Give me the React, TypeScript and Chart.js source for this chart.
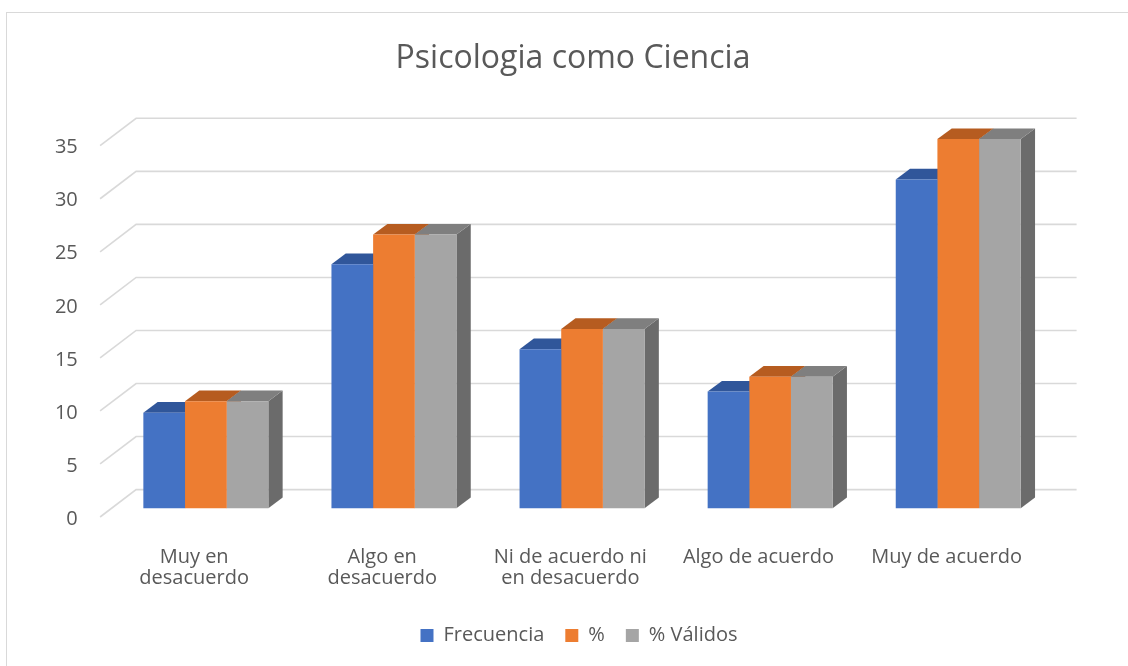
import React, { useEffect, useRef } from "react";
import { Chart, registerables } from "chart.js";

Chart.register(...registerables);

// ---- data ----
const categories: (string | string[])[] = [
  ["Muy en", "desacuerdo"],
  ["Algo en", "desacuerdo"],
  ["Ni de acuerdo ni", "en desacuerdo"],
  "Algo de acuerdo",
  "Muy de acuerdo",
];
const seriesNames = ["Frecuencia", "%", "% Válidos"];
const frecuencia = [9, 23, 15, 11, 31];
const porcentaje = [10.1, 25.8, 16.9, 12.4, 34.8];
const validos = [10.1, 25.8, 16.9, 12.4, 34.8];
const yMin = 0;
const yMax = 35;
const yStep = 5;
const titleText = "Psicologia como Ciencia";

// ---- style ----
const FONT = "'Open Sans', sans-serif";
const TEXT = "#595959";
const GRID = "#d9d9d9";
const FRONT = ["#4472C4", "#ED7D31", "#A5A5A5"];
const TOP = ["#30569A", "#B65C20", "#7F7F7F"];
const SIDE = ["#2B4C88", "#A3521C", "#6B6B6B"];
// 3D geometry (pixels)
const SHIFT_X = 11.7; // floor-front relative to bar plane
const SHIFT_Y = 8.7;
const WALL_DX = 36;
const WALL_DY = 27.4;
const BAR_DX = 14.3;
const BAR_DY = 10.7;
const LEGEND_SHIFT = 6;

const threeD = {
  id: "threeD",
  afterLayout(chart: any) {
    if (chart.legend) {
      chart.legend.left += LEGEND_SHIFT;
      chart.legend.right += LEGEND_SHIFT;
    }
  },
  beforeDraw(chart: any) {
    const ctx = chart.ctx;
    ctx.save();
    ctx.fillStyle = "#ffffff";
    ctx.fillRect(0, 0, chart.width, chart.height);
    ctx.strokeStyle = GRID;
    ctx.lineWidth = 1;
    ctx.strokeRect(6.5, 12.5, chart.width + 50, chart.height + 50);
    ctx.restore();
  },
  beforeDatasetsDraw(chart: any) {
    const ctx = chart.ctx;
    const { left, right } = chart.chartArea;
    const y = chart.scales.y;
    ctx.save();
    ctx.strokeStyle = GRID;
    ctx.lineWidth = 1.6;
    const fx = left - SHIFT_X;
    const bx = fx + WALL_DX;
    const bxr = right - SHIFT_X + WALL_DX;
    for (const t of y.ticks) {
      const fy = y.getPixelForValue(t.value) + SHIFT_Y;
      const by = fy - WALL_DY;
      ctx.beginPath();
      ctx.moveTo(fx, fy);
      ctx.lineTo(bx, by);
      ctx.lineTo(bxr, by);
      ctx.stroke();
    }
    chart.data.datasets.forEach((_ds: any, di: number) => {
      const meta = chart.getDatasetMeta(di);
      meta.data.forEach((bar: any) => {
        const p = bar.getProps(["x", "y", "base", "width"], true);
        const l = p.x - p.width / 2;
        const r = p.x + p.width / 2;
        const top = Math.min(p.y, p.base);
        const base = Math.max(p.y, p.base);
        ctx.fillStyle = SIDE[di];
        ctx.beginPath();
        ctx.moveTo(r, top);
        ctx.lineTo(r + BAR_DX, top - BAR_DY);
        ctx.lineTo(r + BAR_DX, base - BAR_DY);
        ctx.lineTo(r, base);
        ctx.closePath();
        ctx.fill();
        ctx.fillStyle = TOP[di];
        ctx.beginPath();
        ctx.moveTo(l, top);
        ctx.lineTo(l + BAR_DX, top - BAR_DY);
        ctx.lineTo(r + BAR_DX, top - BAR_DY);
        ctx.lineTo(r, top);
        ctx.closePath();
        ctx.fill();
      });
    });
    ctx.restore();
  },
};

export default function App() {
  const ref = useRef<HTMLCanvasElement | null>(null);
  useEffect(() => {
    if (!ref.current) return;
    Chart.defaults.font.family = FONT;
    const values = [frecuencia, porcentaje, validos];
    const chart = new Chart(ref.current, {
      type: "bar",
      data: {
        labels: categories as any,
        datasets: seriesNames.map((name, i) => ({
          label: name,
          data: values[i],
          backgroundColor: FRONT[i],
          borderWidth: 0,
          categoryPercentage: 0.6645,
          barPercentage: 1.0,
          clip: false as any,
        })),
      },
      options: {
        responsive: false,
        animation: false,
        devicePixelRatio: 1,
        layout: { padding: { left: 18, right: 0, top: 0, bottom: 10.5 } },
        plugins: {
          title: {
            display: true,
            text: titleText,
            color: TEXT,
            font: { size: 32, weight: "normal", family: FONT, lineHeight: 1.2 },
            padding: { top: 40, bottom: 58.6 },
          },
          legend: {
            position: "bottom",
            labels: {
              boxWidth: 13,
              boxHeight: 13,
              color: TEXT,
              padding: 21,
              font: { size: 20, family: FONT },
            },
          },
          tooltip: { enabled: false },
        },
        scales: {
          x: {
            type: "category",
            grid: { display: false, drawTicks: false },
            border: { display: false },
            ticks: {
              color: TEXT,
              font: { size: 20, family: FONT, lineHeight: 1.035 },
              padding: 38.5,
              labelOffset: -SHIFT_X,
              maxRotation: 0,
              autoSkip: false,
            },
            afterFit: (s: any) => {
              s.height = 96.2;
            },
          },
          y: {
            min: yMin,
            max: yMax,
            position: "left",
            grid: { display: false, drawTicks: false },
            border: { display: false },
            ticks: {
              stepSize: yStep,
              color: TEXT,
              font: { size: 20, family: FONT },
              padding: 34,
              labelOffset: SHIFT_Y + 2,
            },
            afterFit: (s: any) => {
              s.width = 93.8;
            },
          },
          yr: {
            position: "right",
            display: true,
            grid: { display: false, drawTicks: false },
            border: { display: false },
            ticks: { display: false },
            afterFit: (s: any) => {
              s.width = 75.7;
            },
          },
        },
      },
      plugins: [threeD],
    } as any);
    return () => chart.destroy();
  }, []);
  return (
    <div style={{ position: "fixed", left: 0, top: 0, width: 1128, height: 666, background: "#fff" }}>
      <canvas ref={ref} width={1128} height={666} style={{ display: "block" }} />
    </div>
  );
}
